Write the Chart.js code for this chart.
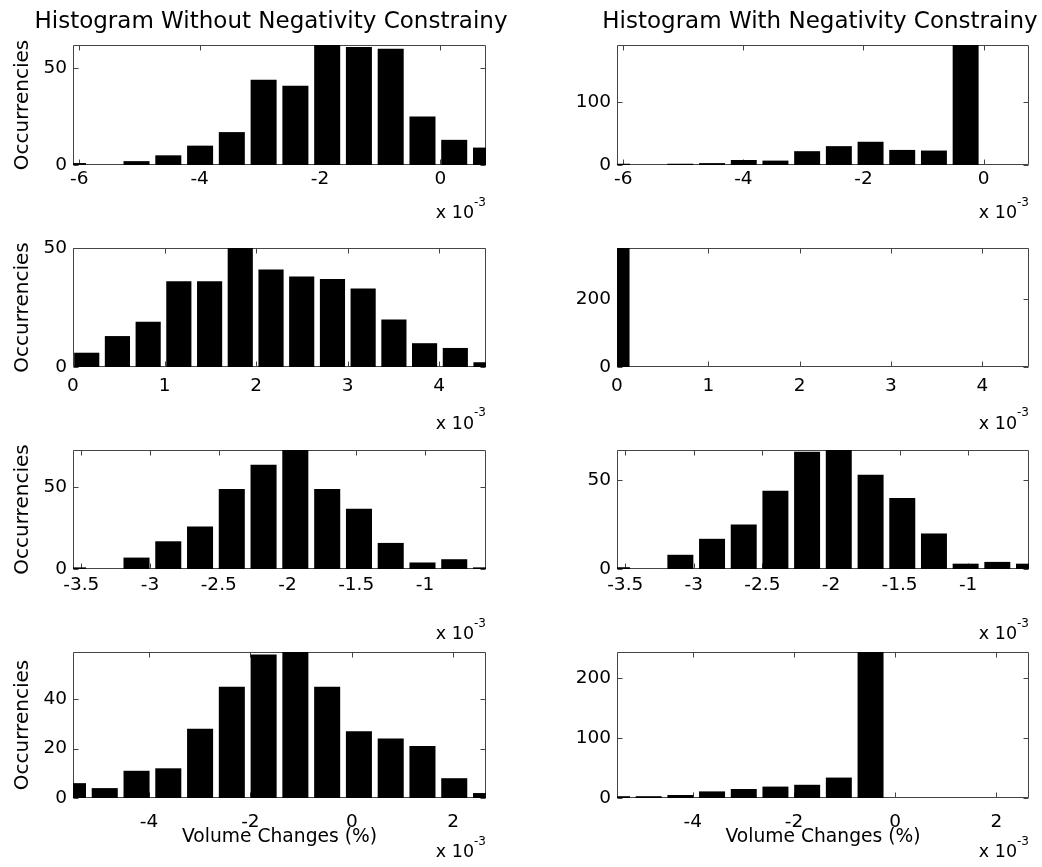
<!DOCTYPE html>
<html>
<head>
<meta charset="utf-8">
<title>Volume change histograms</title>
<script src="https://cdn.jsdelivr.net/npm/chart.js@4.4.0/dist/chart.umd.min.js"></script>
<style>
  html, body { margin: 0; padding: 0; background: #fff; overflow: hidden; }
  #fig { position: relative; width: 1042px; height: 867px; overflow: hidden; }
  #fig canvas { position: absolute; }
</style>
</head>
<body>
<div id="fig"></div>
<script>
// ---- Data (x values in units of 1e-3 %) ----
const centersRow1 = [-6.104, -5.576, -5.049, -4.521, -3.993, -3.466, -2.938, -2.410, -1.882, -1.355, -0.827, -0.299, 0.228, 0.756];
const countsRow1Free = [1, 0, 2, 5, 10, 17, 44, 41, 62, 61, 60, 25, 13, 9];
const countsRow1Constrained = [2, 0, 2, 3, 8, 7, 22, 30, 37, 24, 23, 191, 0, 0];

const centersRow2Free = [0.150, 0.485, 0.821, 1.156, 1.492, 1.827, 2.163, 2.498, 2.834, 3.169, 3.505, 3.840, 4.176, 4.511];
const countsRow2Free = [6, 13, 19, 36, 36, 50, 41, 38, 37, 33, 20, 10, 8, 2];
const centersRow2Constrained = [0, 0.336, 0.671, 1.007, 1.342, 1.678, 2.013, 2.349, 2.684, 3.020, 3.355, 3.691, 4.026, 4.362];
const countsRow2Constrained = [350, 0, 0, 0, 0, 0, 0, 0, 0, 0, 0, 0, 0, 0];

const centersRow3 = [-3.560, -3.329, -3.098, -2.867, -2.636, -2.405, -2.174, -1.943, -1.711, -1.480, -1.249, -1.018, -0.787, -0.556];
const countsRow3Free = [1, 0, 7, 17, 26, 49, 64, 73, 49, 37, 16, 4, 6, 1];
const countsRow3Constrained = [1, 0, 8, 17, 25, 44, 66, 67, 53, 40, 20, 3, 4, 3];

const centersRow4 = [-5.498, -4.872, -4.245, -3.619, -2.992, -2.366, -1.739, -1.113, -0.486, 0.140, 0.767, 1.393, 2.020, 2.646];
const countsRow4Free = [6, 4, 11, 12, 28, 45, 58, 59, 45, 27, 24, 21, 8, 2];
const countsRow4Constrained = [3, 3, 5, 11, 15, 19, 22, 34, 243, 0, 0, 0, 0, 0];

// x-axis limits per row
const xLimitsRow1 = [-6.104, 0.756];
const xLimitsRow2 = [0, 4.511];
const xLimitsRow3 = [-3.560, -0.556];
const xLimitsRow4 = [-5.498, 2.646];

// tick values
const xTicksRow1 = [-6, -4, -2, 0];
const xTicksRow2 = [0, 1, 2, 3, 4];
const xTicksRow3 = [-3.5, -3, -2.5, -2, -1.5, -1];
const xTicksRow4 = [-4, -2, 0, 2];
const yTicksRow1Free = [0, 50];
const yTicksRow1Constrained = [0, 100];
const yTicksRow2Free = [0, 50];
const yTicksRow2Constrained = [0, 200];
const yTicksRow3Free = [0, 50];
const yTicksRow3Constrained = [0, 50];
const yTicksRow4Free = [0, 20, 40];
const yTicksRow4Constrained = [0, 100, 200];

// text
const columnTitles = ['Histogram Without Negativity Constrainy', 'Histogram With Negativity Constrainy'];
const yAxisTitle = 'Occurrencies';
const xAxisTitle = 'Volume Changes (%)';
const exponentBase = 'x 10';
const exponentPower = '-3';

// ---- Layout ----
const FONT = "'DejaVu Sans', sans-serif";
const COLS = [
  { x0: 0,   x1: 521,  boxL: 73,  boxR: 486,  titleX: 271 },
  { x0: 521, x1: 1042, boxL: 617, boxR: 1029, titleX: 820 }
];
const ROWS = [
  { top: 45,  bottom: 165, cTop: 0,   cBottom: 235, labelOffset: 14,   expY: 213.5 },
  { top: 248, bottom: 367, cTop: 215, cBottom: 440, labelOffset: 19.5, expY: 424 },
  { top: 450, bottom: 569, cTop: 418, cBottom: 645, labelOffset: 16.5, expY: 634.5 },
  { top: 652, bottom: 798, cTop: 620, cBottom: 867, labelOffset: 24,   expY: 852.5 }
];
const TICK_SIZE = 18.5;

const panels = [
  { row: 0, col: 0, centers: centersRow1, counts: countsRow1Free, xLim: xLimitsRow1, xTicks: xTicksRow1, yTicks: yTicksRow1Free },
  { row: 0, col: 1, centers: centersRow1, counts: countsRow1Constrained, xLim: xLimitsRow1, xTicks: xTicksRow1, yTicks: yTicksRow1Constrained },
  { row: 1, col: 0, centers: centersRow2Free, counts: countsRow2Free, xLim: xLimitsRow2, xTicks: xTicksRow2, yTicks: yTicksRow2Free },
  { row: 1, col: 1, centers: centersRow2Constrained, counts: countsRow2Constrained, xLim: xLimitsRow2, xTicks: xTicksRow2, yTicks: yTicksRow2Constrained },
  { row: 2, col: 0, centers: centersRow3, counts: countsRow3Free, xLim: xLimitsRow3, xTicks: xTicksRow3, yTicks: yTicksRow3Free },
  { row: 2, col: 1, centers: centersRow3, counts: countsRow3Constrained, xLim: xLimitsRow3, xTicks: xTicksRow3, yTicks: yTicksRow3Constrained },
  { row: 3, col: 0, centers: centersRow4, counts: countsRow4Free, xLim: xLimitsRow4, xTicks: xTicksRow4, yTicks: yTicksRow4Free },
  { row: 3, col: 1, centers: centersRow4, counts: countsRow4Constrained, xLim: xLimitsRow4, xTicks: xTicksRow4, yTicks: yTicksRow4Constrained }
];

Chart.defaults.font.family = FONT;
Chart.defaults.color = '#000';

// Boxed axes with inward ticks on all four sides, column titles and the x10^-3 multiplier
const panelDecor = {
  id: 'panelDecor',
  beforeDatasetsDraw(chart, args, o) {
    const { ctx, chartArea: a } = chart;
    const xs = chart.scales.x, ys = chart.scales.y;
    const L = Math.round(a.left) + 0.5, R = Math.round(a.right) - 0.5;
    const T = Math.round(a.top) + 0.5, B = Math.round(a.bottom) - 0.5;
    ctx.save();
    ctx.strokeStyle = o.axisColor;
    ctx.lineWidth = 1;
    ctx.beginPath();
    ctx.rect(L, T, R - L, B - T);
    xs.ticks.forEach(t => {
      const p = Math.round(xs.getPixelForValue(t.value)) + 0.5;
      ctx.moveTo(p, B); ctx.lineTo(p, B - o.tickLen);
      ctx.moveTo(p, T); ctx.lineTo(p, T + o.tickLen);
    });
    ys.ticks.forEach(t => {
      const p = Math.round(ys.getPixelForValue(t.value)) + 0.5;
      ctx.moveTo(L, p); ctx.lineTo(L + o.tickLen, p);
      ctx.moveTo(R, p); ctx.lineTo(R - o.tickLen, p);
    });
    ctx.stroke();
    ctx.restore();
  },
  afterDraw(chart, args, o) {
    const { ctx, chartArea: a } = chart;
    ctx.save();
    ctx.fillStyle = '#000';
    ctx.textBaseline = 'middle';
    if (o.title) {
      ctx.font = '23px ' + FONT;
      ctx.textAlign = 'center';
      ctx.fillText(o.title, o.titleX, o.titleY);
    }
    ctx.textAlign = 'right';
    ctx.font = '12px ' + FONT;
    ctx.fillText(exponentPower, a.right, o.expY - 11);
    const pw = ctx.measureText(exponentPower).width;
    ctx.font = '17.5px ' + FONT;
    ctx.fillText(exponentBase, a.right - pw, o.expY);
    ctx.restore();
  }
};

const fig = document.getElementById('fig');

panels.forEach(p => {
  const R = ROWS[p.row], C = COLS[p.col];
  const w = C.x1 - C.x0, h = R.cBottom - R.cTop;
  const cv = document.createElement('canvas');
  cv.width = w; cv.height = h;
  cv.style.width = w + 'px'; cv.style.height = h + 'px';
  cv.style.left = C.x0 + 'px'; cv.style.top = R.cTop + 'px';
  fig.appendChild(cv);

  const yAxisW = C.boxL - C.x0;
  const xAxisH = R.cBottom - R.bottom;
  const isLeft = p.col === 0, isBottom = p.row === 3, isTop = p.row === 0;

  new Chart(cv, {
    type: 'bar',
    data: {
      datasets: [{
        data: p.centers.map((x, i) => ({ x: x, y: p.counts[i] })),
        backgroundColor: '#000',
        borderWidth: 0,
        barPercentage: 0.82,
        categoryPercentage: 1,
        clip: 0
      }]
    },
    options: {
      responsive: false,
      animation: false,
      devicePixelRatio: 1,
      events: [],
      layout: { padding: { top: R.top - R.cTop, right: C.x1 - C.boxR, left: 0, bottom: 0 } },
      plugins: {
        legend: { display: false },
        tooltip: { enabled: false },
        panelDecor: {
          axisColor: '#444',
          tickLen: 5,
          title: isTop ? columnTitles[p.col] : null,
          titleX: C.titleX - C.x0,
          titleY: 22 - R.cTop,
          expY: R.expY - R.cTop
        }
      },
      scales: {
        x: {
          type: 'linear',
          min: p.xLim[0],
          max: p.xLim[1],
          offset: false,
          grid: { display: false, drawTicks: false, offset: false },
          border: { display: false },
          ticks: {
            autoSkip: false,
            maxRotation: 0,
            minRotation: 0,
            padding: R.labelOffset - TICK_SIZE * 0.6,
            font: { size: TICK_SIZE },
            color: '#000',
            callback: v => String(v)
          },
          afterBuildTicks: s => { s.ticks = p.xTicks.map(v => ({ value: v })); },
          afterFit: s => { s.height = xAxisH; },
          title: {
            display: isBottom,
            text: xAxisTitle,
            font: { size: 18.7 },
            color: '#000',
            padding: { top: 0, bottom: 867 - 837 - 18.7 * 0.6 }
          }
        },
        y: {
          type: 'linear',
          min: 0,
          max: Math.max(...p.counts),
          grid: { display: false, drawTicks: false },
          border: { display: false },
          ticks: {
            autoSkip: false,
            padding: 6,
            font: { size: TICK_SIZE },
            color: '#000',
            callback: v => String(v)
          },
          afterBuildTicks: s => { s.ticks = p.yTicks.map(v => ({ value: v })); },
          afterFit: s => { s.width = yAxisW; },
          title: {
            display: isLeft,
            text: yAxisTitle,
            font: { size: 20 },
            color: '#000',
            padding: { top: 11, bottom: 0 }
          }
        }
      }
    },
    plugins: [panelDecor]
  });
});
</script>
</body>
</html>
